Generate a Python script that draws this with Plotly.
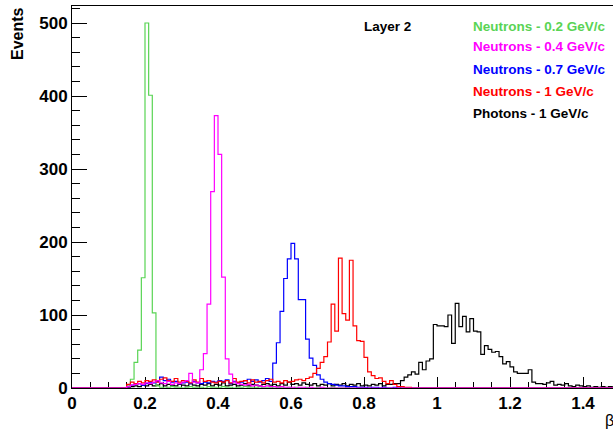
import numpy as np
import plotly.graph_objects as go

# Histogram definition: 150 bins of width 0.01 starting at beta = 0
bin_width = 0.01
n_bins = 150
first_bin = 15  # counts lists below start at beta = 0.15

neutrons_02 = [3, 12, 35, 52, 151, 500, 401, 103, 3,
               1, 0, 1, 2, 1, 1, 0, 1, 2, 1, 1, 1, 0, 2, 1, 1, 1, 2, 1, 1, 0, 1, 1, 2, 1, 1,
               1, 0, 1, 1, 1, 0, 1, 1, 0, 1, 0, 1, 0, 0, 1, 0, 0, 1, 0, 0, 0, 1, 0, 0, 0, 1]

neutrons_04 = [2, 4, 5, 6, 5, 7, 6, 8, 10, 7, 6, 9, 5, 7, 6, 8, 10, 20, 8, 7,
               25, 47, 115, 269, 373, 320, 152, 40, 19,
               8, 6, 5, 4, 5, 3, 4, 3, 2, 3, 2, 2, 1, 2, 1, 1, 1, 0, 1, 1, 0, 1, 0, 0, 1, 0, 0]

neutrons_07 = [2, 4, 5, 6, 4, 6, 8, 7, 9, 15, 10, 12, 8, 9, 6, 7, 8, 6, 9, 7,
               6, 8, 7, 9, 8, 10, 9, 11, 6, 9, 7, 8, 10, 12, 9, 11, 8, 10, 13, 9,
               34, 62, 105, 150, 177, 198, 177, 121, 121, 67, 41, 31, 18,
               12, 8, 6, 5, 4, 3, 3, 2, 2, 2, 1, 1, 1, 0, 1, 1, 0, 1, 0, 0, 1, 0, 0]

neutrons_1 = [5, 8, 6, 9, 7, 10, 9, 11, 8, 12, 14, 10, 9, 13, 8, 10, 9, 7, 11, 8,
              13, 9, 10, 8, 7, 9, 8, 10, 7, 13, 8, 9, 10, 7, 11, 8, 9, 7, 10, 12,
              8, 9, 7, 10, 8, 9, 11, 12, 10, 13,
              15, 20, 27, 35, 43, 63, 115, 78, 178, 102, 93, 175, 85, 65, 64, 42,
              22, 17, 13, 14, 9, 6, 10, 5, 2, 2, 1, 1]

photons_1 = [1, 2, 3, 2, 4, 3, 5, 3, 4, 6, 3, 5, 4, 3, 5, 4, 3, 6, 4, 3,
             5, 4, 6, 3, 5, 4, 7, 3, 4, 5, 3, 4, 6, 3, 5, 4, 3, 5, 6, 4,
             5, 3, 6, 4, 8, 5, 6, 4, 7, 5, 4, 6, 3, 5, 4, 6, 3, 5, 4, 6,
             3, 5, 4, 6, 3, 4, 3, 5, 4, 6, 3, 5, 5, 6, 6,
             10, 15, 18, 22, 19, 35, 25, 37, 40, 87, 85, 85, 84, 100, 61, 116, 84, 98, 77, 95,
             78, 77, 46, 58, 53, 49, 50, 43, 33, 36, 29, 22, 20, 20, 20, 25, 8, 6, 6, 5,
             7, 9, 4, 5, 4, 6, 3, 2, 4, 3, 2, 3, 1, 2, 1, 2, 1, 2, 1, 1]

labels = ["Neutrons - 0.2 GeV/c", "Neutrons - 0.4 GeV/c", "Neutrons - 0.7 GeV/c",
          "Neutrons - 1 GeV/c", "Photons - 1 GeV/c"]
colors = ["#59d454", "#ff00ff", "#0000ff", "#ff0000", "#000000"]
series = [neutrons_02, neutrons_04, neutrons_07, neutrons_1, photons_1]

edges = np.arange(n_bins + 1) * bin_width


def full_counts(vals):
    c = np.zeros(n_bins)
    c[first_bin:first_bin + len(vals)] = vals
    return c


fig = go.Figure()
draw_order = [4, 0, 2, 3, 1]
for k in draw_order:
    c = full_counts(series[k])
    fig.add_trace(go.Scatter(
        x=edges, y=np.append(c, c[-1]), mode="lines",
        line=dict(shape="hv", color=colors[k], width=1.2),
        name=labels[k], showlegend=False, hoverinfo="skip"))

W, H = 613, 432
ml, mr, mt, mb = 72, 0, 6, 44
pw, ph = W - ml - mr, H - mt - mb
x_per_unit = 365.0
y_per_unit = 0.73


def px(xs):  # screen pixel -> paper x
    return (xs - ml) / pw


def py(ys):  # screen pixel -> paper y
    return (H - mb - ys) / ph


font_family = "Liberation Sans, Arial, sans-serif"

ann_objs = [dict(
    text="Layer 2", x=px(362), y=py(26), xref="paper", yref="paper",
    xanchor="left", yanchor="middle", showarrow=False,
    font=dict(family=font_family, size=13.5, color="#000000", weight="bold"))]
legend_y = [26, 47, 70, 91, 113]
for lab, col, yy in zip(labels, colors, legend_y):
    ann_objs.append(dict(
        text=lab, x=px(471), y=py(yy), xref="paper", yref="paper",
        xanchor="left", yanchor="middle", showarrow=False,
        font=dict(family=font_family, size=13.5, color=col, weight="bold")))

ann_objs.append(dict(
    text="Events", x=px(18), y=py(34), xref="paper", yref="paper",
    xanchor="center", yanchor="middle", textangle=-90, showarrow=False,
    font=dict(family=font_family, size=16, color="#000000", weight="bold")))
ann_objs.append(dict(
    text="β", x=px(603), y=py(420), xref="paper", yref="paper",
    xanchor="left", yanchor="middle", showarrow=False,
    font=dict(family=font_family, size=16, color="#000000")))

fig.update_layout(
    width=W, height=H,
    margin=dict(l=ml, r=mr, t=mt, b=mb, autoexpand=False),
    paper_bgcolor="white", plot_bgcolor="white",
    showlegend=False,
    annotations=ann_objs,
    xaxis=dict(
        range=[0, pw / x_per_unit], showgrid=False, zeroline=False,
        showline=True, linecolor="black", linewidth=1, mirror=True,
        layer="below traces",
        ticks="inside", ticklen=11, tickcolor="black", tick0=0, dtick=0.2,
        minor=dict(ticks="inside", ticklen=6, dtick=0.05, tickcolor="black", showgrid=False),
        tickfont=dict(family=font_family, size=17, color="black", weight="bold"),
    ),
    yaxis=dict(
        range=[0, ph / y_per_unit], showgrid=False, zeroline=False,
        showline=True, linecolor="black", linewidth=1, mirror=False,
        layer="below traces",
        ticks="inside", ticklen=15, tickcolor="black", tick0=0, dtick=100,
        minor=dict(ticks="inside", ticklen=8, dtick=20, tickcolor="black", showgrid=False),
        tickfont=dict(family=font_family, size=17, color="black", weight="bold"),
    ),
)

# place the figure at the window's top-left corner (no default page margin)
fig.write_html("out.html",
               config={"displayModeBar": False},
               post_script="document.body.style.margin='0';document.body.style.overflow='hidden';")
